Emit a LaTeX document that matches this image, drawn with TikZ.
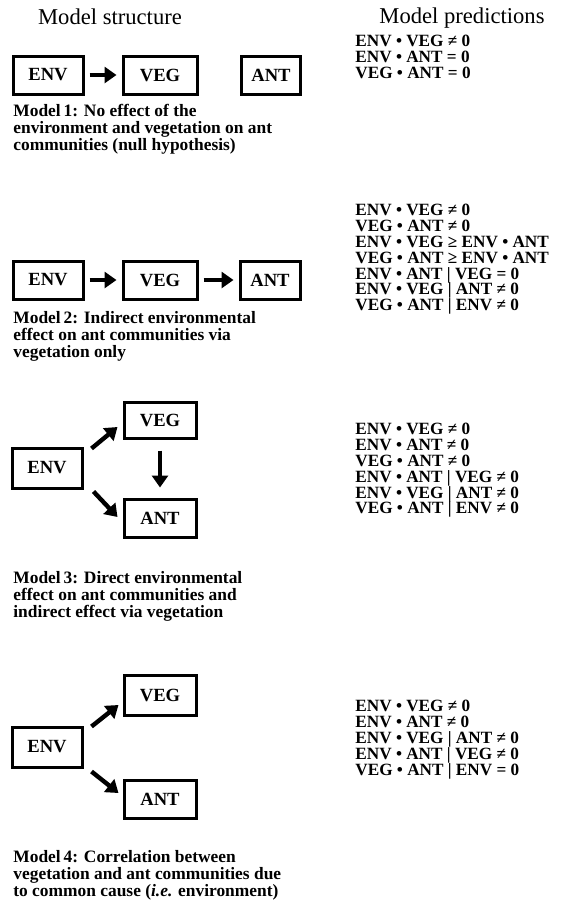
\documentclass[tikz,border=0pt]{standalone}
\usepackage{fontspec}
\setmainfont{Liberation Serif}
\usetikzlibrary{arrows.meta,positioning}

\begin{document}
\begin{tikzpicture}[x=0.5pt,y=-0.5pt]
\tikzset{
  varbox/.style={draw,line width=1.5pt,minimum height=19pt,inner sep=0pt,font=\bfseries\fontsize{9.3}{11}\selectfont},
  effect/.style={-{Triangle[length=6pt,width=8pt]},line width=2.2pt},
  caption/.style={anchor=north west,inner sep=0pt,align=left,font=\bfseries\fontsize{8.7}{8.5}\selectfont},
  preds/.style={anchor=north west,inner sep=0pt,align=left,font=\bfseries\fontsize{8.6}{7.9}\selectfont},
  heading/.style={inner sep=0pt,font=\fontsize{11.3}{13}\selectfont}
}
\useasboundingbox (0,0) rectangle (573,907);
\node[heading] (h_struct) at (110,17) {Model structure};
\node[heading] (h_pred) at (462,18) {Model predictions};

% model 1
\node[varbox,minimum width=35pt] (m1_env) at (48,75) {ENV};
\node[varbox,minimum width=37pt] (m1_veg) at (160,75) {VEG};
\node[varbox,minimum width=29.5pt] (m1_ant) at (271,75) {ANT};
\draw[effect,shorten <=2.5pt,shorten >=2.5pt] (m1_env) -- (m1_veg);
\node[caption] (m1_txt) at (13,104) {Model\,1: No effect of the\\environment and vegetation on ant\\communities (null hypothesis)};
\node[preds] (m1_pred) at (355,35) {ENV • VEG ≠ 0\\ENV • ANT = 0\\VEG • ANT = 0};

% model 2
\node[varbox,minimum width=35pt] (m2_env) at (48,280) {ENV};
\node[varbox,minimum width=37pt] (m2_veg) at (160,280) {VEG};
\node[varbox,minimum width=30pt] (m2_ant) at (270,280) {ANT};
\draw[effect,shorten <=2.5pt,shorten >=2.5pt] (m2_env) -- (m2_veg);
\draw[effect,shorten <=2.5pt,shorten >=2.5pt] (m2_veg) -- (m2_ant);
\node[caption] (m2_txt) at (13,311) {Model\,2: Indirect environmental\\effect on ant communities via\\vegetation only};
\node[preds] (m2_pred) at (355,204) {ENV • VEG ≠ 0\\VEG • ANT ≠ 0\\ENV • VEG ≥ ENV • ANT\\VEG • ANT ≥ ENV • ANT\\ENV • ANT | VEG = 0\\ENV • VEG | ANT ≠ 0\\VEG • ANT | ENV ≠ 0};

% model 3
\node[varbox,minimum width=35pt,minimum height=20pt] (m3_env) at (47,468) {ENV};
\node[varbox,minimum width=36pt,minimum height=18pt] (m3_veg) at (160,420) {VEG};
\node[varbox,minimum width=36pt] (m3_ant) at (160,518) {ANT};
\draw[effect] ([shift={(8,2)}]m3_env.north east) -- ([shift={(-5,7)}]m3_veg.west);
\draw[effect] ([shift={(0,11)}]m3_veg.south) -- ([shift={(0,-10)}]m3_ant.north);
\draw[effect] ([shift={(10,2)}]m3_env.south east) -- ([shift={(-5,-1)}]m3_ant.west);
\node[caption] (m3_txt) at (13,571) {Model\,3: Direct environmental\\effect on ant communities and\\indirect effect via vegetation};
\node[preds] (m3_pred) at (355,423) {ENV • VEG ≠ 0\\ENV • ANT ≠ 0\\VEG • ANT ≠ 0\\ENV • ANT | VEG ≠ 0\\ENV • VEG | ANT ≠ 0\\VEG • ANT | ENV ≠ 0};

% model 4
\node[varbox,minimum width=35pt,minimum height=20pt] (m4_env) at (47,747) {ENV};
\node[varbox,minimum width=36pt,minimum height=20pt] (m4_veg) at (160,695) {VEG};
\node[varbox,minimum width=36pt] (m4_ant) at (160,799) {ANT};
\draw[effect] ([shift={(8,1)}]m4_env.north east) -- ([shift={(-4,10)}]m4_veg.west);
\draw[effect] ([shift={(8,3)}]m4_env.south east) -- ([shift={(-4,-6)}]m4_ant.west);
\node[caption] (m4_txt) at (13,850) {Model\,4: Correlation between\\vegetation and ant communities due\\to common cause (\textit{i.e.} environment)};
\node[preds] (m4_pred) at (355,700) {ENV • VEG ≠ 0\\ENV • ANT ≠ 0\\ENV • VEG | ANT ≠ 0\\ENV • ANT | VEG ≠ 0\\VEG • ANT | ENV = 0};
\end{tikzpicture}
\end{document}
